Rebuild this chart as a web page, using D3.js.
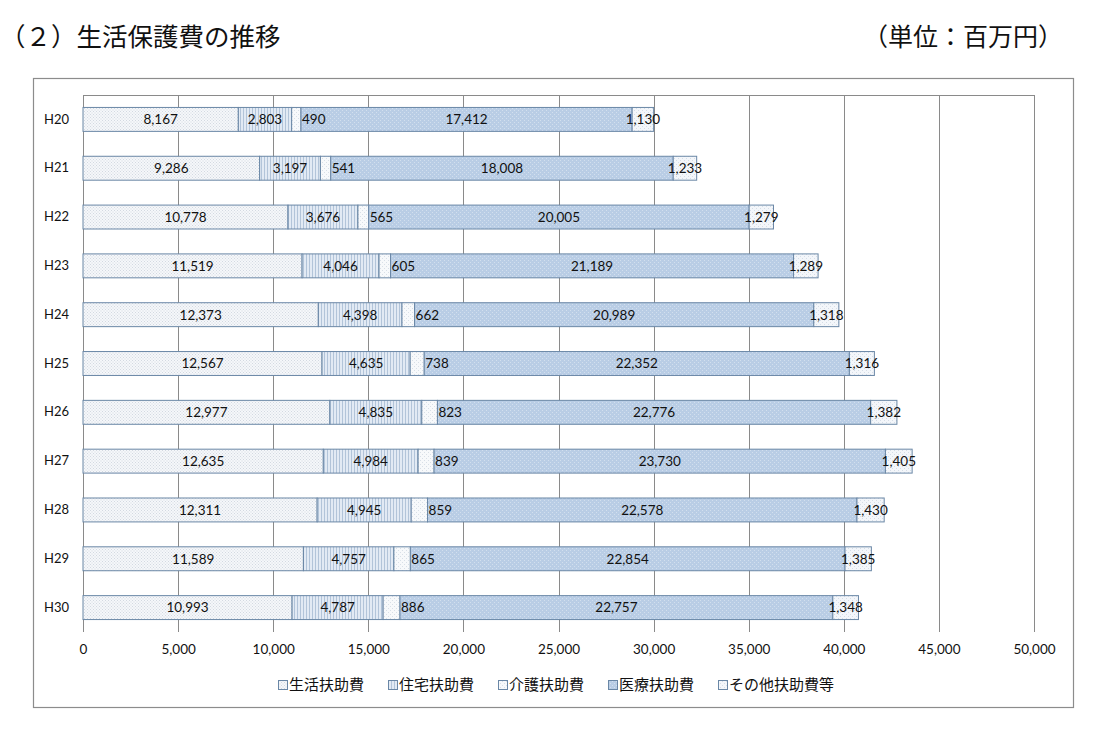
<!DOCTYPE html>
<html>
<head>
<meta charset="utf-8">
<script src="https://cdn.jsdelivr.net/npm/d3@7"></script>
<style>
  body { margin: 0; background: #fff; }
  svg { display: block; }
  .jp { font-family: "Noto Sans CJK JP", "Noto Sans", sans-serif; }
  .num { font-family: Lato, "Liberation Sans", sans-serif; }
</style>
</head>
<body>
<div id="chart"></div>
<script>
// ---- Data -------------------------------------------------------------------
const years    = ['H20', 'H21', 'H22', 'H23', 'H24', 'H25', 'H26', 'H27', 'H28', 'H29', 'H30'];
const seikatsu = [8167, 9286, 10778, 11519, 12373, 12567, 12977, 12635, 12311, 11589, 10993];
const jutaku   = [2803, 3197, 3676, 4046, 4398, 4635, 4835, 4984, 4945, 4757, 4787];
const kaigo    = [490, 541, 565, 605, 662, 738, 823, 839, 859, 865, 886];
const iryo     = [17412, 18008, 20005, 21189, 20989, 22352, 22776, 23730, 22578, 22854, 22757];
const sonota   = [1130, 1233, 1279, 1289, 1318, 1316, 1382, 1405, 1430, 1385, 1348];
const seriesNames = ['生活扶助費', '住宅扶助費', '介護扶助費', '医療扶助費', 'その他扶助費等'];
const xTicks = [0, 5000, 10000, 15000, 20000, 25000, 30000, 35000, 40000, 45000, 50000];

const seriesVals = [seikatsu, jutaku, kaigo, iryo, sonota];
const fills = ['url(#p-seikatsu)', 'url(#p-jutaku)', 'url(#p-kaigo)', 'url(#p-iryo)', 'url(#p-sonota)'];

// ---- Layout -----------------------------------------------------------------
const W = 1096, H = 736;
const plot = { left: 83, right: 1034, top: 95, bottom: 632 };

const svg = d3.select('#chart').append('svg').attr('width', W).attr('height', H);

// ---- Patterns ---------------------------------------------------------------
const defs = svg.append('defs');
function dotPattern(id, bg, dot, size) {
  const p = defs.append('pattern').attr('id', id).attr('patternUnits', 'userSpaceOnUse')
    .attr('width', size).attr('height', size);
  p.append('rect').attr('width', size).attr('height', size).attr('fill', bg);
  p.append('rect').attr('x', 0).attr('y', 0).attr('width', 1).attr('height', 1).attr('fill', dot);
  p.append('rect').attr('x', size / 2).attr('y', size / 2).attr('width', 1).attr('height', 1).attr('fill', dot);
}
dotPattern('p-seikatsu', '#f5f7fa', '#d3d9e1', 3);
dotPattern('p-kaigo', '#f7f9fb', '#d8dfe7', 4);
dotPattern('p-iryo', '#b9cde5', '#d2dfee', 4);
dotPattern('p-sonota', '#f3f6fa', '#d5dde7', 4);
const pj = defs.append('pattern').attr('id', 'p-jutaku').attr('patternUnits', 'userSpaceOnUse')
  .attr('width', 3).attr('height', 3);
pj.append('rect').attr('width', 3).attr('height', 3).attr('fill', '#e2eaf4');
pj.append('rect').attr('width', 1).attr('height', 3).attr('fill', '#b2c4d9');

// ---- Title ------------------------------------------------------------------
svg.append('text').attr('class', 'jp').attr('x', 0).attr('y', 46)
  .attr('font-size', 25.5).attr('fill', '#111').text('（２）生活保護費の推移');
svg.append('text').attr('class', 'jp').attr('x', 1063).attr('y', 46)
  .attr('text-anchor', 'end').attr('font-size', 25).attr('fill', '#111').text('（単位：百万円）');

// ---- Frame ------------------------------------------------------------------
svg.append('rect').attr('x', 33.5).attr('y', 78.5).attr('width', 1040).attr('height', 629)
  .attr('fill', '#fff').attr('stroke', '#8c8c8c').attr('stroke-width', 1.2);

// ---- Scales -----------------------------------------------------------------
const x = d3.scaleLinear().domain([0, 50000]).range([plot.left, plot.right]);
const y = d3.scaleBand().domain(years).range([plot.top, plot.bottom]).paddingInner(0.51).paddingOuter(0.255);

// gridlines
svg.append('g').selectAll('line').data(xTicks).join('line')
  .attr('x1', d => Math.round(x(d)) + 0.5).attr('x2', d => Math.round(x(d)) + 0.5)
  .attr('y1', plot.top).attr('y2', plot.bottom)
  .attr('stroke', '#8a8a8a').attr('stroke-width', 1);
svg.append('line').attr('x1', plot.left).attr('x2', plot.right + 0.5)
  .attr('y1', plot.top + 0.5).attr('y2', plot.top + 0.5).attr('stroke', '#8a8a8a');

// x axis labels
const xAxis = d3.axisBottom(x).tickValues(xTicks).tickFormat(d3.format(',')).tickSize(0).tickPadding(12);
const gx = svg.append('g').attr('transform', `translate(0,${plot.bottom})`).call(xAxis);
gx.select('.domain').remove();
gx.selectAll('text').attr('class', 'num').attr('font-size', 13.5).attr('fill', '#111');

// y axis labels
const yAxis = d3.axisLeft(y).tickSize(0).tickPadding(14);
const gy = svg.append('g').attr('transform', `translate(${plot.left},0)`).call(yAxis);
gy.select('.domain').remove();
gy.selectAll('text').attr('class', 'num').attr('font-size', 13).attr('fill', '#111');

// ---- Stacked bars -----------------------------------------------------------
const rows = years.map((yr, i) => {
  const r = { year: yr };
  seriesNames.forEach((s, k) => { r[s] = seriesVals[k][i]; });
  return r;
});
const stack = d3.stack().keys(seriesNames)(rows);

const layers = svg.append('g').selectAll('g').data(stack).join('g')
  .attr('fill', (d, k) => fills[k]);
layers.selectAll('rect').data(d => d).join('rect')
  .attr('x', d => x(d[0]))
  .attr('y', d => y(d.data.year))
  .attr('width', d => x(d[1]) - x(d[0]))
  .attr('height', y.bandwidth())
  .attr('stroke', '#6a87a6').attr('stroke-width', 1);

// labels (drawn after all bars so none get covered)
const labelLayers = svg.append('g').selectAll('g').data(stack).join('g');
labelLayers.each(function (layer, k) {
  d3.select(this).selectAll('text').data(layer).join('text')
    .attr('class', 'num')
    .attr('x', d => k === 2 ? x(d[1]) + 1 : (x(d[0]) + x(d[1])) / 2)
    .attr('y', d => y(d.data.year) + y.bandwidth() / 2)
    .attr('dy', '0.36em')
    .attr('text-anchor', k === 2 ? 'start' : 'middle')
    .attr('font-size', 13.5).attr('fill', '#111')
    .text(d => d3.format(',')(d[1] - d[0]));
});

// ---- Legend -----------------------------------------------------------------
const legendX = [278, 388, 498, 608, 718];
const lg = svg.append('g').selectAll('g').data(seriesNames).join('g')
  .attr('transform', (d, k) => `translate(${legendX[k]},685)`);
lg.append('rect').attr('x', 0.5).attr('y', -4.5).attr('width', 9).attr('height', 9)
  .attr('fill', (d, k) => fills[k]).attr('stroke', '#6a87a6');
lg.append('text').attr('class', 'jp').attr('x', 11).attr('y', 0).attr('dy', '0.35em')
  .attr('font-size', 15).attr('fill', '#111').text(d => d);
</script>
</body>
</html>
